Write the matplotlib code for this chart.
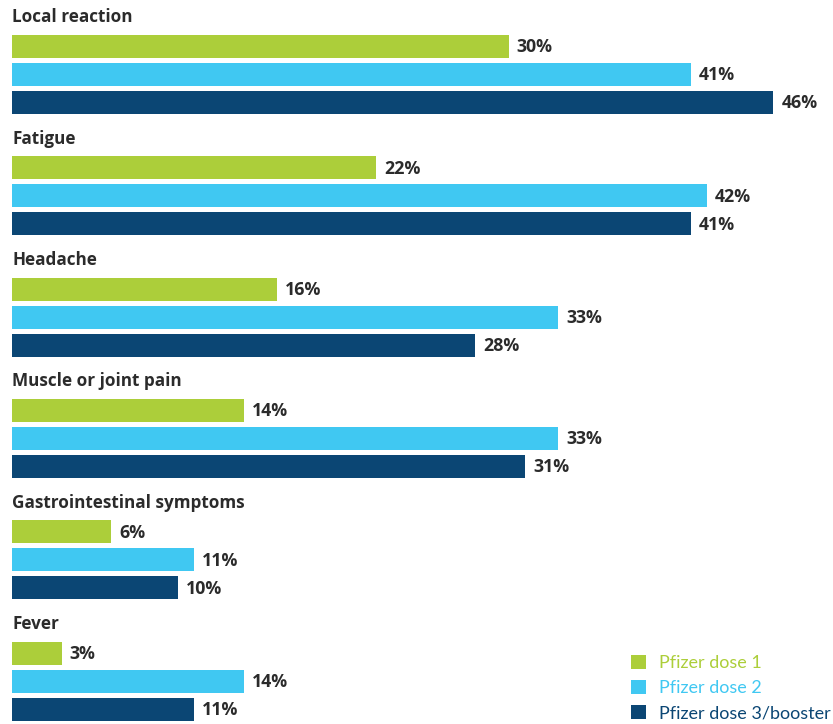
import matplotlib
matplotlib.use("Agg")
import matplotlib.pyplot as plt

categories = ["Local reaction", "Fatigue", "Headache", "Muscle or joint pain",
              "Gastrointestinal symptoms", "Fever"]
dose1 = [30, 22, 16, 14, 6, 3]
dose2 = [41, 42, 33, 33, 11, 14]
dose3 = [46, 41, 28, 31, 10, 11]
series_labels = ["Pfizer dose 1", "Pfizer dose 2", "Pfizer dose 3/booster"]
colors = ["#acce3a", "#40c8f2", "#0b4674"]
text_color = "#2b2b2b"

W, H = 833, 724
fig = plt.figure(figsize=(W / 100, H / 100), dpi=100)
left_px = 12
ax = fig.add_axes([left_px / W, 0, 1 - left_px / W, 1])
px_per_pct = 16.55
ax.set_xlim(0, (W - left_px) / px_per_pct)
ax.set_ylim(H, 0)
ax.axis("off")

font = "Open Sans"
legend_font = "Lato"
group_start = 46.5
group_pitch = 121.3
bar_pitch = 28
bar_h = 23

series = [dose1, dose2, dose3]
handles = []
for j, (vals, col, lab) in enumerate(zip(series, colors, series_labels)):
    ys = [group_start + g * group_pitch + j * bar_pitch for g in range(len(categories))]
    bc = ax.barh(ys, vals, height=bar_h, color=col, label=lab)
    handles.append(bc)
    for y, v in zip(ys, vals):
        ax.text(v + 8 / px_per_pct, y + 1, f"{v}%", va="center", ha="left",
                fontsize=12.8, fontweight="bold", color=text_color, family=font)

for g, cat in enumerate(categories):
    ax.text(0, group_start + g * group_pitch - 29, cat, va="center", ha="left",
            fontsize=12.3, fontweight="bold", color=text_color, family=font)

leg = ax.legend(handles=handles, loc="lower right", bbox_to_anchor=(1.0, 0.0),
                bbox_transform=fig.transFigure, frameon=False,
                handlelength=0.78, handleheight=0.78, handletextpad=0.72,
                labelspacing=0.5, prop={"family": legend_font, "size": 13},
                labelcolor=colors, borderaxespad=0.0, borderpad=0.15)

fig.savefig("out.png", dpi=100)
